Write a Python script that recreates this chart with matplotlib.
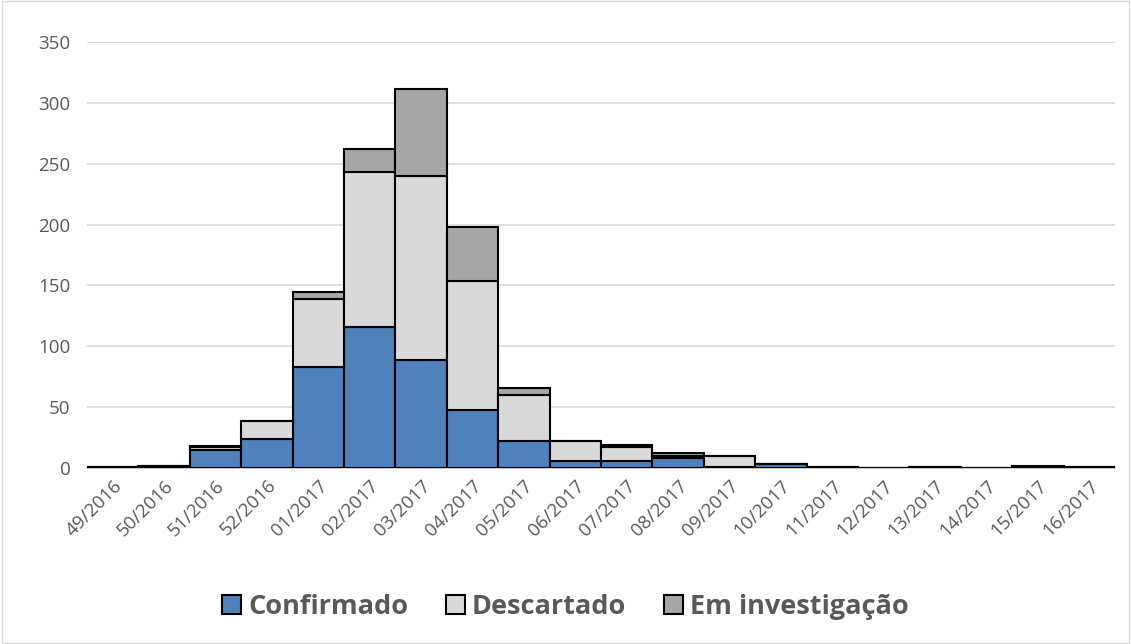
import matplotlib
matplotlib.use("Agg")
import matplotlib.pyplot as plt
import numpy as np
from matplotlib.patches import Rectangle

weeks = ["49/2016", "50/2016", "51/2016", "52/2016", "01/2017", "02/2017", "03/2017",
         "04/2017", "05/2017", "06/2017", "07/2017", "08/2017", "09/2017", "10/2017",
         "11/2017", "12/2017", "13/2017", "14/2017", "15/2017", "16/2017"]
confirmado = [0, 0, 15, 24, 83, 116, 89, 48, 22, 6, 6, 8, 1, 3, 0, 0, 0, 0, 0, 0]
descartado = [1, 2, 2, 15, 56, 127, 151, 106, 38, 16, 11, 2, 9, 0, 1, 0, 1, 0, 1, 1]
investigacao = [0, 0, 1, 0, 6, 19, 71, 44, 6, 0, 2, 2, 0, 0, 0, 0, 0, 0, 1, 0]

labels = ["Confirmado", "Descartado", "Em investigação"]
colors = ["#4F81BD", "#D9D9D9", "#A6A6A6"]

plt.rcParams['font.family'] = ['Open Sans', 'DejaVu Sans']

fig = plt.figure(figsize=(11.31, 6.44), dpi=100)
ax = fig.add_axes([87/1131, 1-468/644, (1115-87)/1131, (468-42)/644])

x = np.arange(len(weeks))
c = np.array(confirmado)
d = np.array(descartado)
i = np.array(investigacao)
ax.bar(x, c, width=1.0, color=colors[0], edgecolor="black", linewidth=1.5, label=labels[0], zorder=3)
ax.bar(x, d, bottom=c, width=1.0, color=colors[1], edgecolor="black", linewidth=1.5, label=labels[1], zorder=3)
ax.bar(x, i, bottom=c + d, width=1.0, color=colors[2], edgecolor="black", linewidth=1.5, label=labels[2], zorder=3)

ax.set_xlim(-0.5, len(weeks) - 0.5)
ax.set_ylim(0, 350)
ax.set_yticks(range(0, 351, 50))
ax.yaxis.grid(True, color="#D9D9D9", linewidth=1.2, zorder=0)
ax.set_axisbelow(True)
for s in ["top", "right", "left"]:
    ax.spines[s].set_visible(False)
ax.spines["bottom"].set_color("#BFBFBF")
ax.spines["bottom"].set_linewidth(1.2)
ax.tick_params(axis="both", length=0, colors="#595959", labelsize=13.5)
ax.tick_params(axis="y", pad=12)
ax.set_xticks(x)
ax.set_xticklabels(weeks, rotation=45, ha="right", rotation_mode="anchor")
ax.tick_params(axis="x", pad=6)

leg = fig.legend(loc="center", bbox_to_anchor=(0.5, 1-607/644), ncol=3, frameon=False,
                 prop={"size": 19.5, "weight": "bold"}, handlelength=0.7, handleheight=0.7,
                 handletextpad=0.25, columnspacing=1.4, labelcolor="#595959")
for h in leg.legend_handles:
    h.set_linewidth(1.5)

border = Rectangle((0.002, 0.002), 0.996, 0.996, transform=fig.transFigure, fill=False,
                   edgecolor="#D9D9D9", linewidth=1.0)
fig.patches.append(border)

fig.savefig("out.png", dpi=100)
